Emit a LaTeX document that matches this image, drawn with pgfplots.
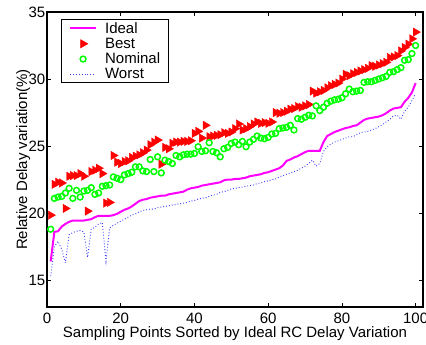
\documentclass[border=0pt]{standalone}
\usepackage{pgfplots}
\pgfplotsset{compat=1.18}
\usepackage{pgfplotstable}
\usepackage{fontspec}
\setmainfont{Liberation Sans}
\usetikzlibrary{calc}
\definecolor{mmag}{RGB}{255,0,255}
\definecolor{mred}{RGB}{255,0,0}
\definecolor{mgreen}{RGB}{0,255,0}
\definecolor{mblue}{RGB}{60,60,255}
\pgfplotsset{
  lineleg/.style={legend image code/.code={\draw[##1] (0bp,0bp) -- (26bp,0bp); \path (34bp,0bp);}},
  markleg/.style={legend image code/.code={\draw[##1] plot coordinates {(13bp,0bp)}; \path (0bp,0bp) (34bp,0bp);}},
}
\pgfplotstableread{
x ideal best nominal worst
1 16.4 19.85 18.8 15.3
2 18.6 22.15 21.1 17.5
3 18.65 22.3 21.2 17.9
4 19.0 22.25 21.25 17.3
5 19.2 20.35 21.5 16.3
6 19.35 22.75 21.85 18.4
7 19.45 22.8 21.1 18.55
8 19.45 22.8 21.7 18.65
9 19.45 22.95 21.2 18.7
10 19.45 22.75 21.65 18.6
11 19.5 20.15 21.7 16.7
12 19.55 23.1 21.9 18.8
13 19.7 23.2 21.4 18.95
14 19.8 23.35 21.5 19.2
15 19.8 22.95 22.0 19.3
16 19.8 20.75 22.05 16.4
17 19.8 20.8 22.1 18.9
18 19.85 24.3 22.7 19.1
19 19.95 23.8 22.6 19.25
20 20.1 23.7 22.5 19.4
21 20.25 23.85 22.85 19.55
22 20.35 23.9 22.95 19.7
23 20.5 24.15 23.05 19.85
24 20.7 24.25 23.45 19.95
25 20.9 24.35 23.45 20.1
26 21.0 24.5 23.15 20.2
27 21.05 24.7 23.1 20.25
28 21.15 25.1 24.0 20.3
29 21.2 25.3 23.1 20.3
30 21.25 25.45 24.2 20.4
31 21.3 23.65 23.0 20.45
32 21.3 24.9 23.95 20.5
33 21.4 24.8 23.85 20.55
34 21.45 25.2 23.7 20.6
35 21.5 25.3 24.3 20.65
36 21.55 25.3 24.2 20.7
37 21.6 25.35 24.35 20.75
38 21.75 25.35 24.4 20.8
39 21.85 25.4 24.4 20.9
40 21.9 25.95 24.45 20.95
41 21.95 26.1 24.95 21.05
42 22.05 25.6 24.6 21.1
43 22.1 26.55 24.65 21.15
44 22.15 25.7 25.25 21.25
45 22.2 25.75 24.6 21.35
46 22.25 25.8 24.5 21.4
47 22.3 25.85 24.2 21.55
48 22.45 26.0 24.8 21.6
49 22.5 25.95 24.9 21.7
50 22.5 26.05 25.2 21.8
51 22.55 26.3 25.3 21.85
52 22.55 26.65 25.1 21.9
53 22.6 26.2 25.35 21.95
54 22.65 26.3 24.95 22.0
55 22.75 26.45 25.3 22.05
56 22.8 26.65 25.5 22.1
57 22.85 26.8 25.75 22.2
58 22.9 26.7 25.6 22.25
59 23.0 26.75 25.55 22.35
60 23.05 26.7 25.65 22.4
61 23.15 26.8 25.9 22.5
62 23.25 27.5 25.95 22.55
63 23.35 27.45 26.3 22.7
64 23.55 27.5 26.35 22.8
65 23.9 27.6 26.4 22.9
66 24.0 27.75 26.55 23.0
67 24.15 27.8 26.2 23.1
68 24.25 27.95 27.05 23.2
69 24.4 27.9 27.0 23.35
70 24.55 28.0 27.15 23.5
71 24.65 28.1 27.3 23.7
72 24.65 29.1 27.25 23.95
73 24.65 28.95 28.0 23.5
74 24.65 29.05 27.65 23.7
75 25.3 29.15 27.9 24.6
76 25.75 29.35 28.2 24.95
77 25.9 29.5 28.35 25.15
78 26.05 29.6 28.45 25.3
79 26.15 29.7 28.5 25.4
80 26.25 30.0 28.6 25.5
81 26.35 30.35 28.9 25.6
82 26.4 30.25 29.25 25.7
83 26.5 30.4 29.05 25.7
84 26.55 30.5 29.1 25.85
85 26.75 30.6 29.15 26.0
86 26.95 30.7 29.75 26.05
87 27.05 30.8 29.8 26.1
88 27.1 31.0 29.8 26.2
89 27.15 30.95 29.9 26.3
90 27.2 31.05 30.0 26.45
91 27.3 31.15 30.1 26.6
92 27.45 31.25 30.2 26.8
93 27.65 31.6 30.5 27.0
94 27.8 31.65 30.55 27.25
95 27.85 31.75 30.7 27.3
96 27.9 32.1 30.85 27.0
97 28.3 32.35 31.4 27.6
98 28.6 32.6 31.45 27.9
99 29.0 33.0 31.9 28.4
100 29.7 33.5 32.5 28.9
}\datatable
\newcommand{\fs}{\fontsize{15bp}{18bp}\selectfont}
\begin{document}
\begin{tikzpicture}
\begin{axis}[
  name=ax, at={(0,0)}, anchor=south west,
  scale only axis, width=376bp, height=295bp,
  xmin=0, xmax=102, ymin=13, ymax=35,
  xtick={0,20,...,100}, ytick={15,20,...,35},
  minor tick num=0,
  tick align=inside, xtick pos=both, ytick pos=both,
  major tick length=4bp,
  axis line style={line width=1.1bp},
  every tick/.style={black, line width=0.8bp},
  /pgf/number format/assume math mode=true,
  every tick label/.append style={font=\fs},
  yticklabel style={inner xsep=1.5bp},
  xticklabel style={inner ysep=6bp},
  label style={font=\fs},
  xlabel={Sampling Points Sorted by Ideal RC Delay Variation},
  ylabel={Relative Delay variation(\%)},
  xlabel style={at={(axis description cs:0.5,0)}, anchor=north, yshift=-16.5bp},
  ylabel style={at={(axis description cs:0,0.5)}, anchor=south, rotate=0, yshift=13.3bp},
  legend style={
    at={(0.0364,0.9753)}, anchor=north west,
    draw=black, line width=0.8bp, fill=white,
    inner xsep=8bp, inner ysep=1bp,
    font=\fs, row sep=0bp,
    nodes={inner xsep=0bp, inner ysep=1.6bp},
  },
  legend cell align=left,
]
\addplot[mmag, line width=2bp, lineleg]
  table[x=x, y=ideal] {\datatable};
\addlegendentry{Ideal}
\addplot[only marks, mark=triangle*, mark size=4.8bp,
  mark options={rotate=-90, fill=mred, draw=mred, line width=0.4bp}, markleg]
  table[x=x, y=best] {\datatable};
\addlegendentry{Best}
\addplot[only marks, mark=o, mark size=2.9bp,
  mark options={draw=mgreen, line width=1.5bp}, markleg]
  table[x=x, y=nominal] {\datatable};
\addlegendentry{Nominal}
\addplot[mblue, line width=0.9bp, dash pattern=on 0.9bp off 2bp, lineleg]
  table[x=x, y=worst] {\datatable};
\addlegendentry{Worst}
\end{axis}
\pgfresetboundingbox
\path[use as bounding box] ($(ax.south west)+(-47bp,-38bp)$) rectangle ($(ax.north east)+(3bp,12bp)$);
\end{tikzpicture}
\end{document}
